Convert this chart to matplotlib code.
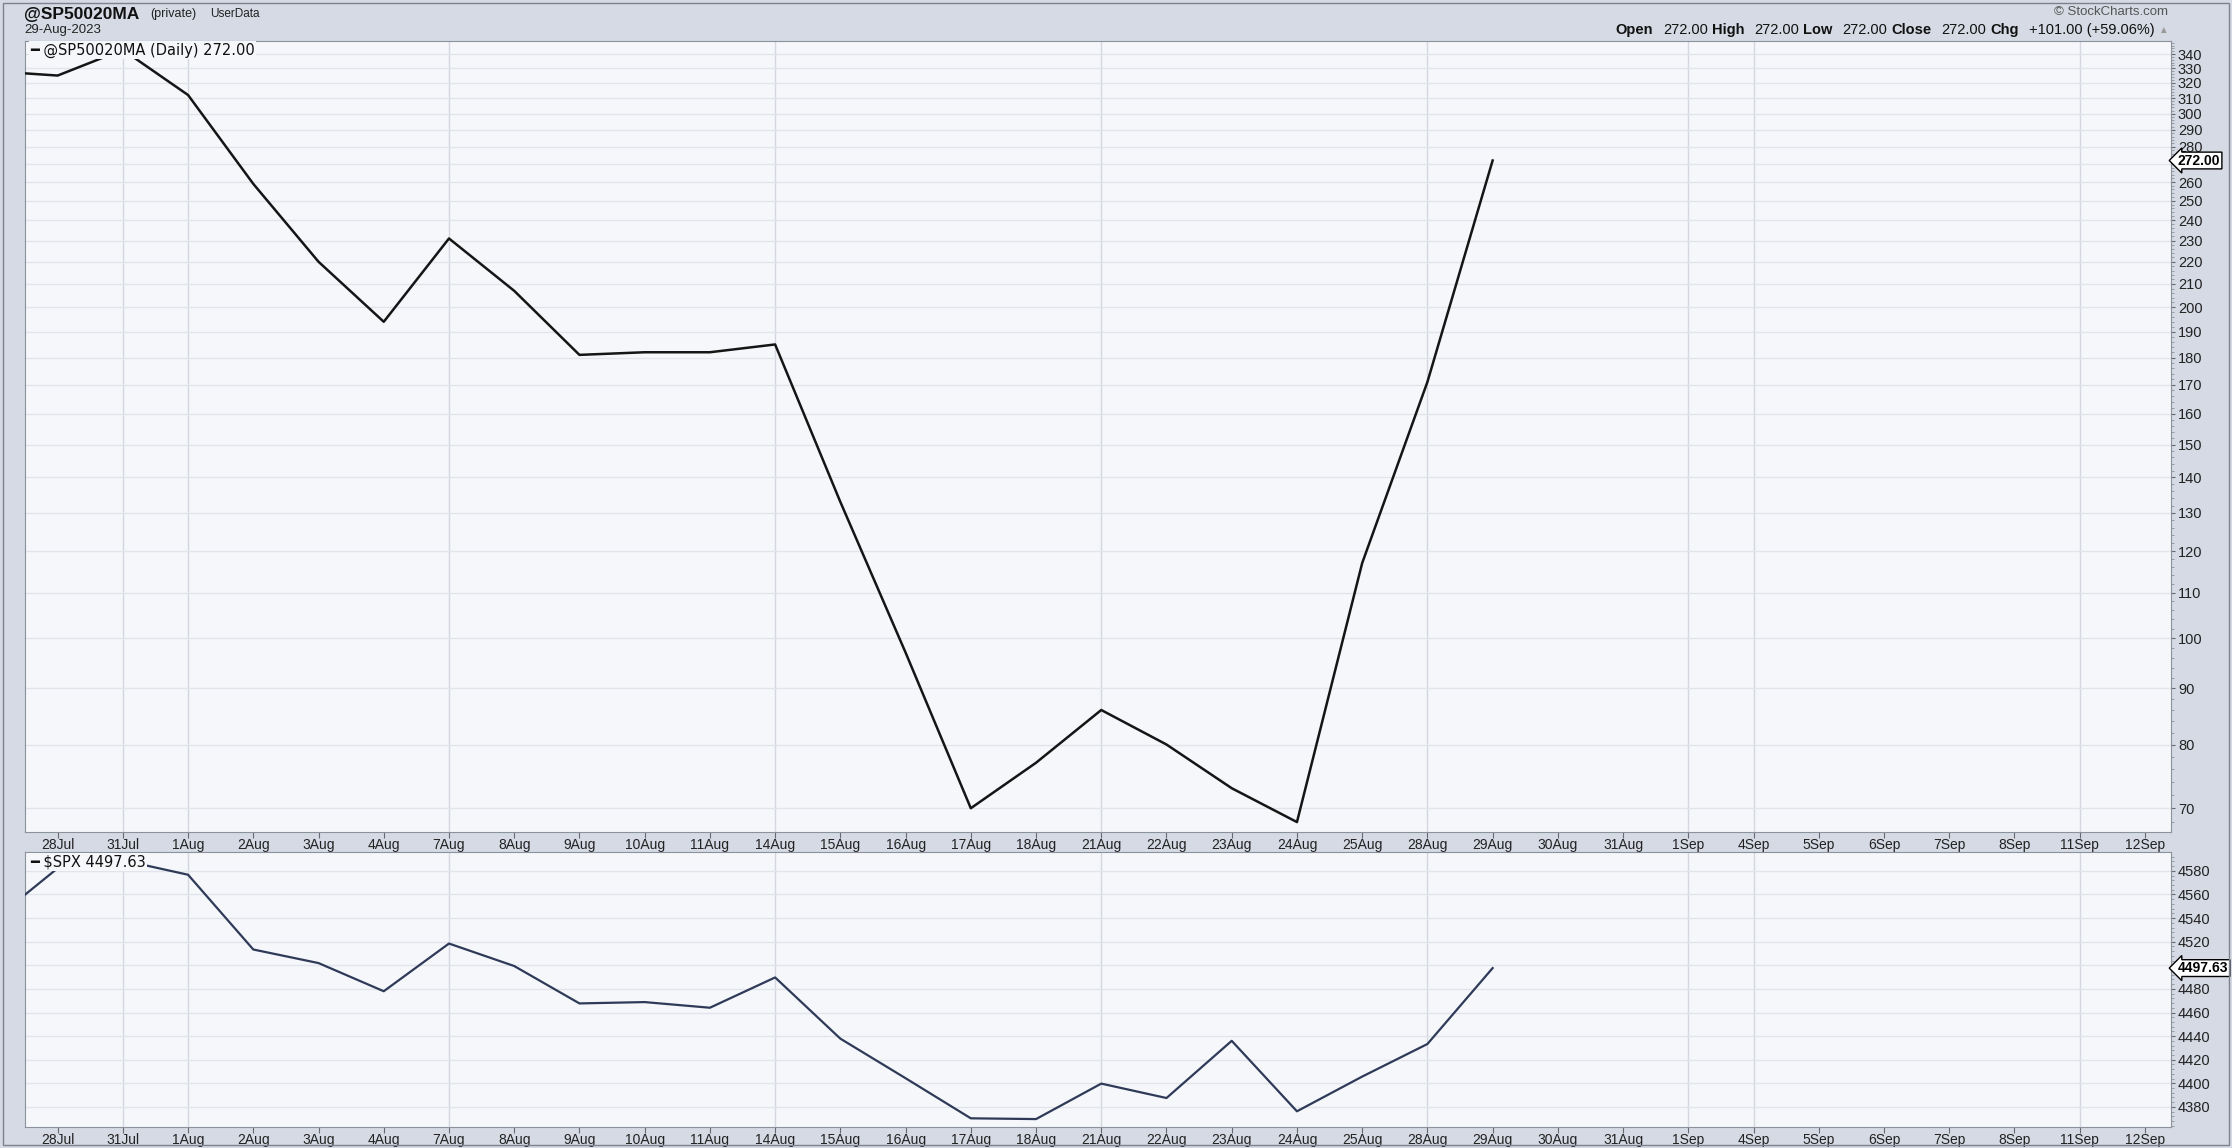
import matplotlib
matplotlib.use('Agg')
import matplotlib.pyplot as plt
import numpy as np
from matplotlib.patches import Rectangle
from matplotlib.ticker import FixedLocator, NullFormatter

# trading days shown on the axis (27Jul is just off the left edge)
dates = ['27Jul', '28Jul', '31Jul', '1Aug', '2Aug', '3Aug', '4Aug', '7Aug', '8Aug', '9Aug', '10Aug',
         '11Aug', '14Aug', '15Aug', '16Aug', '17Aug', '18Aug', '21Aug', '22Aug', '23Aug', '24Aug',
         '25Aug', '28Aug', '29Aug', '30Aug', '31Aug', '1Sep', '4Sep', '5Sep', '6Sep', '7Sep', '8Sep',
         '11Sep', '12Sep']
breadth = [328, 325, 343, 312, 259, 220, 194, 231, 207, 181, 182, 182, 185, 133, 97, 70, 77, 86,
           80, 73, 68, 117, 171, 272]
spx = [4537.41, 4582.23, 4588.96, 4576.73, 4513.39, 4501.89, 4478.03, 4518.44, 4499.38, 4467.71,
       4468.83, 4464.05, 4489.72, 4437.86, 4404.33, 4370.36, 4369.71, 4399.77, 4387.55, 4436.01,
       4376.31, 4405.71, 4433.31, 4497.63]
breadth_ticks = list(range(70, 350, 10))
spx_ticks = list(range(4380, 4600, 20))
week_lines = ['31Jul', '1Aug', '7Aug', '14Aug', '21Aug', '28Aug', '1Sep', '4Sep', '11Sep']

W, H = 2232, 1148
BG = '#d5dae4'
PANEL = '#f5f7fb'
plt.rcParams['font.family'] = ['Liberation Sans', 'DejaVu Sans']


def px_box(left, top, right, bottom):
    return [left / W, 1 - bottom / H, (right - left) / W, (bottom - top) / H]


fig = plt.figure(figsize=(W / 100, H / 100), dpi=100, facecolor=BG)
ax1 = fig.add_axes(px_box(25, 41, 2171, 832))
ax2 = fig.add_axes(px_box(25, 852, 2171, 1127))
fig.patches.append(Rectangle((3 / W, 3 / H), 1 - 6 / W, 1 - 6 / H, transform=fig.transFigure,
                             fill=False, ec='#7d838e', lw=1))

x = np.arange(len(dates)) - 1
n = len(breadth)

for ax in (ax1, ax2):
    ax.set_facecolor(PANEL)
    ax.set_xlim(-0.5, 32.4)
    ax.yaxis.tick_right()
    ax.set_xticks(x[1:])
    ax.set_xticklabels(dates[1:])
    ax.tick_params(axis='x', length=4, width=0.8, color='#666a72', pad=0.5, labelsize=10, labelcolor='#222')
    ax.tick_params(axis='y', which='major', length=3, width=0.8, color='#666a72', pad=2,
                   labelsize=10.5, labelcolor='#222')
    ax.tick_params(axis='y', which='minor', length=2, width=0.6, color='#8a8f98')
    ax.grid(axis='y', color='#e1e4ea', lw=1)
    for d in week_lines:
        ax.axvline(dates.index(d) - 1, color='#d3d7df', lw=1, zorder=0.5)
    for sp in ax.spines.values():
        sp.set_color('#8c929c')

# upper panel, log scale
ax1.set_yscale('log')
ax1.set_ylim(66.6, 349.4)
ax1.yaxis.set_major_locator(FixedLocator(breadth_ticks))
ax1.set_yticklabels(['' if v == 270 else str(v) for v in breadth_ticks])
ax1.yaxis.set_minor_locator(FixedLocator(list(range(66, 350, 2))))
ax1.yaxis.set_minor_formatter(NullFormatter())
ax1.plot(x[:n], breadth, color='#151515', lw=1.8, zorder=3)

# lower panel
ax2.set_ylim(4363, 4596)
ax2.yaxis.set_major_locator(FixedLocator(spx_ticks))
ax2.set_yticklabels(['' if v == 4500 else str(v) for v in spx_ticks])
ax2.yaxis.set_minor_locator(FixedLocator(list(range(4364, 4596, 4))))
ax2.yaxis.set_minor_formatter(NullFormatter())
ax2.plot(x[:n], spx, color='#2f3a58', lw=1.6, zorder=3)

# legends in the panel corners
ax1.annotate('\u2501 @SP50020MA (Daily) %.2f' % breadth[-1], xy=(0, 1), xycoords='axes fraction',
             xytext=(5, -9), textcoords='offset pixels', ha='left', va='center', fontsize=10.5,
             family=['DejaVu Sans'], color='#111', zorder=5,
             bbox=dict(fc=PANEL, ec='none', pad=1))
ax2.annotate('\u2501 $SPX %.2f' % spx[-1], xy=(0, 1), xycoords='axes fraction',
             xytext=(5, -10), textcoords='offset pixels', ha='left', va='center', fontsize=10.5,
             family=['DejaVu Sans'], color='#111', zorder=5,
             bbox=dict(fc=PANEL, ec='none', pad=1))

# last value markers on the right axis
for ax, val in ((ax1, breadth[-1]), (ax2, spx[-1])):
    ax.annotate('%.2f' % val, xy=(1, val), xycoords=('axes fraction', 'data'), xytext=(7, 0),
                textcoords='offset pixels', ha='left', va='center', fontsize=10, fontweight='bold',
                color='black', annotation_clip=False,
                bbox=dict(boxstyle='larrow,pad=0.1', fc='white', ec='black', lw=1))

# header
fig.text(24 / W, 1 - 14 / H, '@SP50020MA', fontsize=12.5, fontweight='bold', va='center', color='#111')
fig.text(150 / W, 1 - 14 / H, '(private)', fontsize=9, va='center', color='#222')
fig.text(210 / W, 1 - 14 / H, 'UserData', fontsize=8.5, va='center', color='#222')
fig.text(24 / W, 1 - 30 / H, '29-Aug-2023', fontsize=9.5, va='center', color='#222')
fig.text(2168 / W, 1 - 12 / H, '\u00a9 StockCharts.com', ha='right', va='center', fontsize=9.5, color='#555')

last = breadth[-1]
chg = breadth[-1] - breadth[-2]
parts = [('Open', True), ('%.2f' % last, False), ('High', True), ('%.2f' % last, False),
         ('Low', True), ('%.2f' % last, False), ('Close', True), ('%.2f' % last, False),
         ('Chg', True), ('+%.2f (+%.2f%%)' % (chg, 100 * chg / breadth[-2]), False)]
r = fig.canvas.get_renderer()
texts = []
for s, bold in parts:
    t = fig.text(0, 1 - 30 / H, s, ha='left', va='center', fontsize=10.5,
                 fontweight='bold' if bold else 'normal', color='#111')
    texts.append((t, t.get_window_extent(r).width, bold))
tri = fig.text(2168 / W, 1 - 30 / H, '\u25b2', ha='right', va='center', fontsize=7, color='#999')
xpos = 2168 - tri.get_window_extent(r).width - 4
for t, w, bold in reversed(texts):
    xpos -= w
    t.set_x(xpos / W)
    xpos -= 4 if bold else 10

fig.savefig('out.png', dpi=100, facecolor=BG)
